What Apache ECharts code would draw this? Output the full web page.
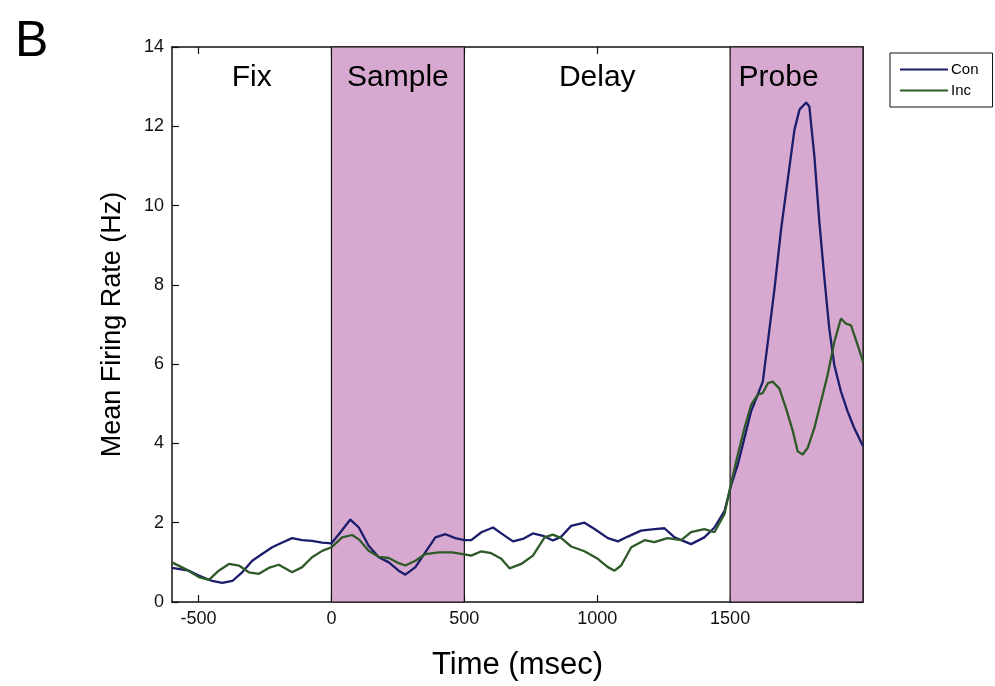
<!DOCTYPE html>
<html>
<head>
<meta charset="utf-8">
<script src="https://cdn.jsdelivr.net/npm/echarts@6/dist/echarts.min.js"></script>
<style>
  html, body { margin: 0; padding: 0; background: #fff; }
  #chart { width: 995px; height: 686px; }
</style>
</head>
<body>
<div id="chart"></div>
<script>
// time (msec) and mean firing rate (Hz)
var conTime = [-600,-536,-499,-449,-411,-373,-336,-298,-261,-223,-185,-148,-110,-73,-35,0,28,71,103,140,178,216,253,278,316,353,391,429,466,500,526,564,608,639,683,720,758,796,833,865,902,952,990,1040,1078,1115,1165,1215,1253,1291,1353,1403,1441,1479,1504,1529,1554,1579,1604,1623,1642,1667,1692,1717,1742,1761,1786,1798,1817,1836,1855,1873,1892,1917,1942,1967,2000];
var conRate = [0.86,0.79,0.67,0.53,0.48,0.53,0.75,1.04,1.21,1.38,1.5,1.61,1.56,1.54,1.5,1.48,1.71,2.08,1.88,1.42,1.13,1.0,0.79,0.69,0.88,1.25,1.63,1.71,1.61,1.56,1.56,1.76,1.88,1.73,1.53,1.59,1.73,1.67,1.55,1.65,1.92,2.0,1.84,1.61,1.53,1.65,1.8,1.84,1.86,1.63,1.46,1.63,1.88,2.3,2.95,3.47,4.14,4.81,5.23,5.56,6.56,7.9,9.41,10.66,11.91,12.42,12.6,12.5,11.25,9.57,8.15,6.9,5.98,5.31,4.81,4.39,3.93];

var incTime = [-600,-549,-499,-461,-424,-386,-348,-311,-273,-236,-198,-148,-110,-73,-35,0,40,78,103,140,178,216,253,278,316,353,404,454,500,526,564,601,639,670,714,758,802,833,865,902,952,1002,1040,1065,1090,1128,1178,1215,1265,1316,1353,1403,1441,1479,1504,1529,1554,1579,1604,1623,1642,1660,1685,1710,1736,1754,1773,1792,1817,1842,1867,1892,1917,1936,1955,1980,2000];
var incRate = [1.0,0.83,0.63,0.56,0.79,0.96,0.92,0.75,0.71,0.86,0.94,0.75,0.88,1.13,1.29,1.38,1.63,1.69,1.58,1.29,1.14,1.11,0.98,0.92,1.04,1.21,1.25,1.25,1.2,1.17,1.28,1.23,1.09,0.85,0.96,1.17,1.63,1.7,1.61,1.4,1.28,1.09,0.88,0.79,0.92,1.38,1.56,1.51,1.61,1.56,1.76,1.84,1.76,2.22,3.0,3.72,4.39,4.97,5.23,5.27,5.52,5.56,5.39,4.89,4.31,3.8,3.72,3.89,4.39,5.06,5.73,6.56,7.15,7.02,6.98,6.48,6.06];

var xTicks = [-500, 0, 500, 1000, 1500];
var epochNames = ['Fix', 'Sample', 'Delay', 'Probe'];
var epochBounds = [[-600, 0], [0, 500], [500, 1500], [1500, 2000]];
var epochShaded = [false, true, false, true];

function pairs(t, v) {
    var out = [];
    for (var i = 0; i < t.length; i++) out.push([t[i], v[i]]);
    return out;
}

var areas = [];
for (var i = 0; i < epochNames.length; i++) {
    var shaded = epochShaded[i];
    areas.push([{
        name: epochNames[i],
        xAxis: epochBounds[i][0],
        itemStyle: shaded ? { color: '#d7a9d1', borderColor: '#111', borderWidth: 1.2 }
                          : { color: 'rgba(0,0,0,0)', borderWidth: 0 },
        label: { offset: epochNames[i] === 'Probe' ? [-18, 0] : [0, 0] }
    }, { xAxis: epochBounds[i][1] }]);
}

var font = '"Liberation Sans", Arial, sans-serif';
var axisLineStyle = { onZero: false, show: true, lineStyle: { color: '#111', width: 1.5 } };
var tickStyle = { show: true, inside: true, length: 7, lineStyle: { color: '#111', width: 1.2 } };

var chart = echarts.init(document.getElementById('chart'));
var option = {
    backgroundColor: '#fff',
    animation: false,
    textStyle: { fontFamily: font },
    title: {
        text: 'B',
        left: 10,
        top: 12,
        textStyle: { fontFamily: font, fontSize: 50, fontWeight: 'normal', color: '#000' }
    },
    legend: {
        data: ['Con', 'Inc'],
        orient: 'vertical',
        left: 890,
        top: 53,
        padding: [9, 14, 9, 10],
        itemWidth: 48,
        itemHeight: 2,
        itemGap: 6,
        icon: 'rect',
        borderColor: '#111',
        borderWidth: 1,
        textStyle: { fontFamily: font, fontSize: 15, color: '#000', padding: [0, 0, 0, -2] }
    },
    grid: { left: 172, right: 132, top: 47, bottom: 81 },
    xAxis: [{
        type: 'value',
        min: -600,
        max: 2000,
        name: 'Time (msec)',
        nameLocation: 'middle',
        nameGap: 48,
        nameTextStyle: { fontFamily: font, fontSize: 31, color: '#000' },
        axisLine: axisLineStyle,
        axisTick: Object.assign({ customValues: xTicks }, tickStyle),
        axisLabel: {
            customValues: xTicks, margin: 8, fontFamily: font, fontSize: 18, color: '#111',
            formatter: function (v) { return String(v); }
        },
        splitLine: { show: false }
    }, {
        type: 'value',
        position: 'top',
        min: -600,
        max: 2000,
        axisLine: axisLineStyle,
        axisTick: Object.assign({ customValues: xTicks }, tickStyle),
        axisLabel: { show: false },
        splitLine: { show: false }
    }],
    yAxis: [{
        type: 'value',
        min: 0,
        max: 14,
        interval: 2,
        name: 'Mean Firing Rate (Hz)',
        nameLocation: 'middle',
        nameGap: 46,
        nameTextStyle: { fontFamily: font, fontSize: 27, color: '#000' },
        axisLine: axisLineStyle,
        axisTick: tickStyle,
        axisLabel: { margin: 8, fontFamily: font, fontSize: 18, color: '#111' },
        splitLine: { show: false }
    }, {
        type: 'value',
        position: 'right',
        min: 0,
        max: 14,
        interval: 2,
        axisLine: axisLineStyle,
        axisTick: tickStyle,
        axisLabel: { show: false },
        splitLine: { show: false }
    }],
    series: [{
        name: 'Con',
        type: 'line',
        data: pairs(conTime, conRate),
        showSymbol: false,
        symbol: 'none',
        color: '#1b1c6b',
        lineStyle: { color: '#1b1c6b', width: 2.3 },
        markArea: {
            silent: true,
            label: {
                show: true,
                position: 'insideTop',
                distance: 16,
                fontFamily: font,
                fontSize: 30,
                color: '#000'
            },
            data: areas
        }
    }, {
        name: 'Inc',
        type: 'line',
        data: pairs(incTime, incRate),
        showSymbol: false,
        symbol: 'none',
        color: '#2e5a28',
        lineStyle: { color: '#2e5a28', width: 2.3 }
    }]
};
chart.setOption(option);
</script>
</body>
</html>
